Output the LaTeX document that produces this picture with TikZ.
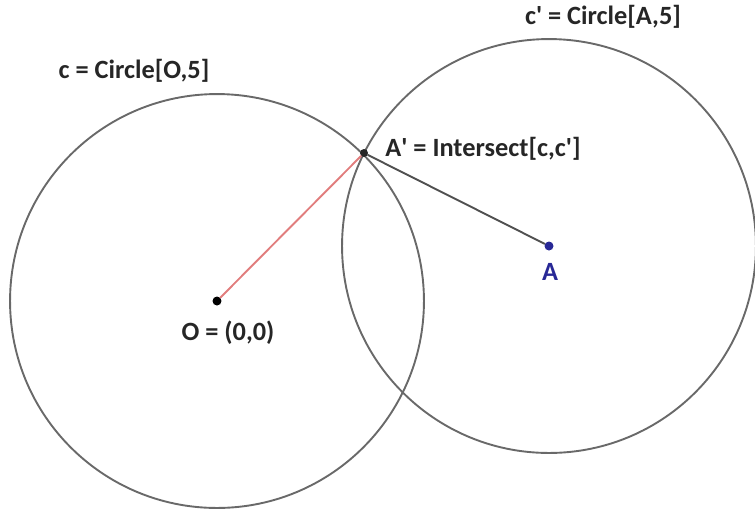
\documentclass[tikz,border=0pt]{standalone}
\usepackage{fontspec}
\setmainfont{Carlito}
\usetikzlibrary{backgrounds}
\definecolor{circgray}{RGB}{105,105,105}
\definecolor{segred}{RGB}{225,125,125}
\definecolor{seggray}{RGB}{80,80,80}
\definecolor{ptblue}{RGB}{40,40,150}
\tikzset{
  circ/.style={draw=circgray, line width=0.038cm},
  seg/.style={line width=0.038cm},
  point/.style={circle, fill, inner sep=0pt, minimum size=0.18cm},
  lbl/.style={font=\bfseries\fontsize{15}{17}\selectfont, text=black!85, inner sep=0pt}
}
\begin{document}
\begin{tikzpicture}[x=0.02cm, y=-0.02cm, line cap=round, line join=round]
  \useasboundingbox (0,0) rectangle (755,512);

  % points
  \node[point, black] (O) at (217,301) {};
  \node[point, ptblue] (A) at (549,246) {};
  \node[point, black!85, minimum size=0.16cm] (Ap) at (364,153) {};

  % circles c and c'
  \begin{scope}[on background layer]
    \draw[circ] (O.center) circle[radius=4.14cm];
    \draw[circ] (A.center) circle[radius=4.14cm];
  \end{scope}

  % radii
  \draw[seg, segred] (O) -- (Ap);
  \draw[seg, seggray] (Ap) -- (A);

  % labels
  \node[lbl] (lc) at (134,71) {c = Circle[O,5]};
  \node[lbl] (lcc) at (603,17) {c\textquotesingle{} = Circle[A,5]};
  \node[lbl, anchor=west] (lAp) at (385,149) {A\textquotesingle{} = Intersect[c,c\textquotesingle]};
  \node[lbl] (lO) at (228,333) {O = (0,0)};
  \node[lbl, text=ptblue] (lA) at (550,272) {A};
\end{tikzpicture}
\end{document}
